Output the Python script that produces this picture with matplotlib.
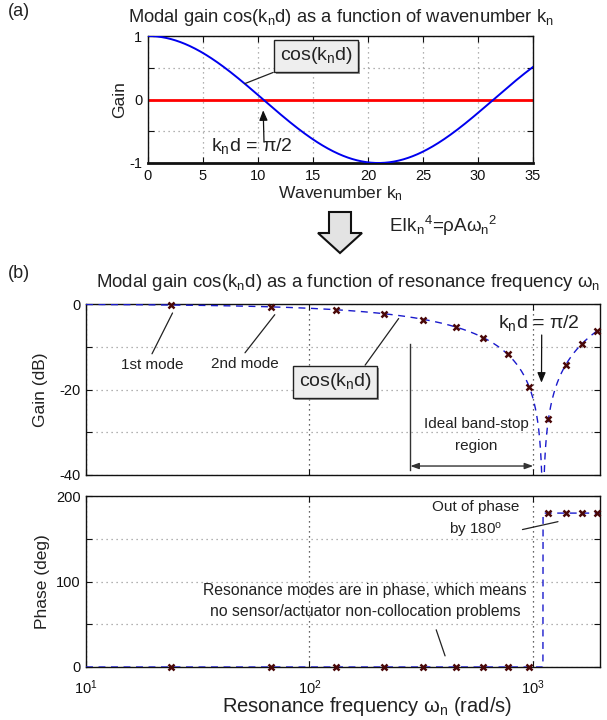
import numpy as np
import matplotlib
matplotlib.use("Agg")
import matplotlib.pyplot as plt
from matplotlib.patches import Polygon
import matplotlib.patheffects as pe

plt.rcParams['font.family'] = ['Liberation Sans', 'DejaVu Sans']
plt.rcParams['mathtext.fontset'] = 'custom'
plt.rcParams['mathtext.rm'] = 'Liberation Sans'
plt.rcParams['mathtext.it'] = 'Liberation Sans'
plt.rcParams['mathtext.default'] = 'regular'

# ---- data -------------------------------------------------------------
spacing_d = 0.15              # sensor/actuator spacing d
stiffness_ratio = 10.13       # omega = stiffness_ratio * k^2  (from EI k^4 = rho A omega^2)
wavenumber_max = 35

mode_freq = [24, 67, 131, 216, 323, 451, 600, 771, 963, 1176, 1411, 1667, 1944]
mode_gain_db = [-0.2, -0.7, -1.3, -2.4, -3.7, -5.4, -7.9, -11.7, -19.3, -27.0,
                -14.2, -9.3, -6.3]
mode_phase = [0, 0, 0, 0, 0, 0, 0, 0, 0, 180, 180, 180, 180]

xticks_a = [0, 5, 10, 15, 20, 25, 30, 35]
yticks_a = [-1, -0.5, 0, 0.5, 1]
yticklabels_a = ['-1', '', '0', '', '1']
yticks_gain = [-40, -30, -20, -10, 0]
yticklabels_gain = ['-40', '', '-20', '', '0']
yticks_phase = [0, 50, 100, 150, 200]
yticklabels_phase = ['0', '', '100', '', '200']

# ---- figure ------------------------------------------------------------
W, H = 607, 720
fig = plt.figure(figsize=(W / 100, H / 100), dpi=100)
TXT = '#222222'


def fp(x, y):
    return (x / W, 1 - y / H)


def axes_px(l, t, r, b):
    return fig.add_axes([l / W, 1 - b / H, (r - l) / W, (b - t) / H])


def style(ax):
    ax.tick_params(direction='in', length=4, width=0.8, top=True, right=True,
                   labelsize=10.5, colors='#111111', pad=4)
    ax.tick_params(which='minor', length=0)
    for s in ax.spines.values():
        s.set_linewidth(1.0)
        s.set_color('#111111')


def shadow(txt):
    txt.get_bbox_patch().set_path_effects(
        [pe.SimplePatchShadow(offset=(1.5, -1.5), shadow_rgbFace='#777777', alpha=0.8),
         pe.Normal()])


box_kw = dict(boxstyle='square,pad=0.3', fc='#eeeeee', ec='#222222', lw=1.0)
dash = (0, (5, 4))
dot = (0, (1, 3))

# ---- panel (a) -----------------------------------------------------------
ax_a = axes_px(148, 36, 533, 163)
k = np.linspace(0, wavenumber_max, 500)
ax_a.plot(k, np.cos(k * spacing_d), color='#0000ee', lw=1.4, zorder=3)
ax_a.axhline(0, color='#ff0000', lw=2.0, zorder=2)
ax_a.set_xlim(0, wavenumber_max)
ax_a.set_ylim(-1, 1)
ax_a.set_xticks(xticks_a)
ax_a.set_yticks(yticks_a)
ax_a.set_yticklabels(yticklabels_a)
style(ax_a)
ax_a.spines['bottom'].set_linewidth(2.0)
ax_a.grid(True, ls=dot, color='#999999', lw=0.9)
ax_a.set_xlabel('Wavenumber k$_n$', fontsize=12.5, color=TXT, labelpad=1)
ax_a.set_ylabel('Gain', fontsize=12.5, color=TXT, labelpad=2)

fig.text(*fp(8, 12), '(a)', fontsize=13, color=TXT, va='center', ha='left')
fig.text(*fp(341, 17), 'Modal gain cos(k$_n$d) as a function of wavenumber k$_n$',
         fontsize=13.2, color=TXT, ha='center', va='center')

t = ax_a.annotate('cos(k$_n$d)', xy=(8.8, 0.25), xycoords='data',
                  xytext=fp(316, 56), textcoords='figure fraction',
                  fontsize=14, color=TXT, ha='center', va='center', bbox=box_kw,
                  arrowprops=dict(arrowstyle='-', color='#222222', lw=0.9,
                                  shrinkA=0, shrinkB=0, relpos=(0.12, 0.0)))
shadow(t)
ax_a.annotate('', xy=(np.pi / (2 * spacing_d), -0.17), xycoords='data',
              xytext=fp(264, 142), textcoords='figure fraction',
              arrowprops=dict(arrowstyle='-|>,head_length=0.6,head_width=0.25',
                              color='#111111', lw=0.9, shrinkA=0, shrinkB=0))
fig.text(*fp(252, 146), 'k$_n$d = π/2', fontsize=14, color=TXT,
         ha='center', va='center')

# ---- block arrow between panels -------------------------------------------
arrow_pts = [(329, 212), (351, 212), (351, 233), (362, 233), (340, 253),
             (318, 233), (329, 233)]
fig.patches.append(Polygon([fp(x, y) for x, y in arrow_pts], closed=True,
                           transform=fig.transFigure, fc='#e3e3e3',
                           ec='#111111', lw=1.5))
fig.text(*fp(389, 226), 'EIk$_n$$^4$=ρAω$_n$$^2$', fontsize=13.5, color=TXT,
         ha='left', va='center')

# ---- panel (b) gain ------------------------------------------------------
omega = np.logspace(1, np.log10(2000), 4000)
kk = np.sqrt(omega / stiffness_ratio)
modal = np.cos(kk * spacing_d)
gain_db = 20 * np.log10(np.maximum(np.abs(modal), 1e-4))
phase = np.where(modal >= 0, 0.0, 180.0)

ax_g = axes_px(86, 304, 600, 475)
ax_g.semilogx(omega, gain_db, color='#1a1acc', lw=1.0, ls=dash, zorder=3)
ax_g.plot(mode_freq, mode_gain_db, ls='none', marker='x', ms=5, mew=1.8,
          color='#4a0808', zorder=4, clip_on=False)
ax_g.set_xlim(10, 2000)
ax_g.set_ylim(-40, 0)
ax_g.set_yticks(yticks_gain)
ax_g.set_yticklabels(yticklabels_gain)
style(ax_g)
ax_g.tick_params(labelbottom=False)
ax_g.grid(True, axis='y', ls=dot, color='#999999', lw=0.9)
ax_g.grid(True, axis='x', which='major', ls=dot, color='#333333', lw=0.9)
ax_g.set_ylabel('Gain (dB)', fontsize=12.5, color=TXT, labelpad=8)

fig.text(*fp(8, 274), '(b)', fontsize=13, color=TXT, va='center', ha='left')
fig.text(*fp(348, 283),
         'Modal gain cos(k$_n$d) as a function of resonance frequency ω$_n$',
         fontsize=13.4, color=TXT, ha='center', va='center')

line_kw = dict(arrowstyle='-', color='#222222', lw=0.9, shrinkA=0, shrinkB=0)
ax_g.annotate('1st mode', xy=(24.4, -2.1), xycoords='data',
              xytext=fp(152, 365), textcoords='figure fraction',
              fontsize=11, color=TXT, ha='center', va='center',
              arrowprops=dict(relpos=(0.5, 1.3), **line_kw))
ax_g.annotate('2nd mode', xy=(70, -2.5), xycoords='data',
              xytext=fp(245, 364), textcoords='figure fraction',
              fontsize=11, color=TXT, ha='center', va='center',
              arrowprops=dict(relpos=(0.5, 1.3), **line_kw))
t = ax_g.annotate('cos(k$_n$d)', xy=(251, -3.4), xycoords='data',
                  xytext=fp(335, 382), textcoords='figure fraction',
                  fontsize=14, color=TXT, ha='center', va='center', bbox=box_kw,
                  arrowprops=dict(relpos=(0.85, 1.0), **line_kw))
shadow(t)
ax_g.annotate('', xy=(1094, -18.4), xycoords='data',
              xytext=fp(541.7, 335), textcoords='figure fraction',
              arrowprops=dict(arrowstyle='-|>,head_length=0.6,head_width=0.25',
                              color='#111111', lw=0.9, shrinkA=0, shrinkB=0))
fig.text(*fp(539, 323), 'k$_n$d = π/2', fontsize=14, color=TXT,
         ha='center', va='center')

# ideal band-stop region bracket
ax_g.plot([283, 283], [-9.3, -38.8], color='#333333', lw=1.0)
ax_g.annotate('', xy=(283, -37.9), xytext=(1005, -37.9),
              arrowprops=dict(arrowstyle='<|-|>,head_length=0.5,head_width=0.18',
                              color='#333333', lw=1.0, shrinkA=0, shrinkB=0))
fig.text(*fp(476, 424), 'Ideal band-stop', fontsize=11, color=TXT,
         ha='center', va='center')
fig.text(*fp(476, 446), 'region', fontsize=11, color=TXT,
         ha='center', va='center')

# ---- panel (b) phase -----------------------------------------------------
ax_p = axes_px(86, 496, 600, 667)
ax_p.semilogx(omega, phase, color='#1a1acc', lw=1.0, ls=dash, zorder=3)
ax_p.plot(mode_freq, mode_phase, ls='none', marker='x', ms=5, mew=1.8,
          color='#4a0808', zorder=4, clip_on=False)
ax_p.set_xlim(10, 2000)
ax_p.set_ylim(0, 200)
ax_p.set_yticks(yticks_phase)
ax_p.set_yticklabels(yticklabels_phase)
style(ax_p)
ax_p.tick_params(axis='x', pad=8)
ax_p.grid(True, axis='y', ls=dot, color='#999999', lw=0.9)
ax_p.grid(True, axis='x', which='major', ls=dot, color='#333333', lw=0.9)
ax_p.set_ylabel('Phase (deg)', fontsize=12.5, color=TXT, labelpad=4)
ax_p.set_xlabel('Resonance frequency ω$_n$ (rad/s)', fontsize=14.5,
                color=TXT, labelpad=0)
ax_p.xaxis.set_label_coords((367 - 86) / 514, -0.165)

ax_p.annotate('Out of phase\nby 180$^o$', xy=(1297, 170), xycoords='data',
              xytext=fp(476, 520), textcoords='figure fraction',
              fontsize=11, color=TXT, ha='center', va='center',
              linespacing=1.5,
              arrowprops=dict(relpos=(0.95, 0.22), **line_kw))
ax_p.annotate('Resonance modes are in phase, which means\n'
              'no sensor/actuator non-collocation problems',
              xy=(405, 13), xycoords='data',
              xytext=fp(365, 601), textcoords='figure fraction',
              fontsize=11.3, color=TXT, ha='center', va='center',
              linespacing=1.5,
              arrowprops=dict(relpos=(0.72, -0.3), **line_kw))

fig.savefig('out.png', dpi=100, facecolor='white')
